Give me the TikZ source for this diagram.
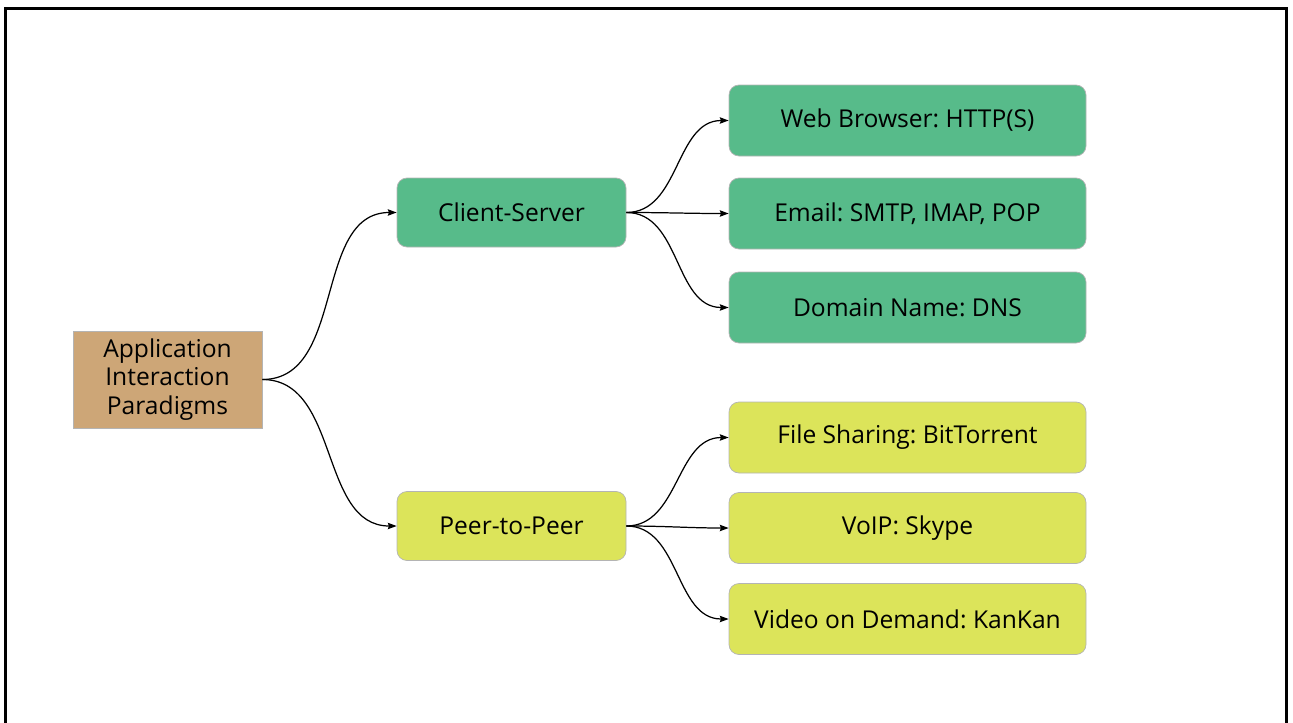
\documentclass[tikz,border=0pt]{standalone}
\usepackage{fontspec}
\setmainfont{Open Sans}
\usetikzlibrary{arrows.meta}
\frenchspacing

\definecolor{roottan}{HTML}{CDA677}
\definecolor{csgreen}{HTML}{57BB8A}
\definecolor{ppyellow}{HTML}{DCE45A}
\definecolor{boxgrey}{HTML}{B4B4B4}

\tikzstyle{root}=[draw=boxgrey, fill=roottan, minimum width=3.78cm, minimum height=1.94cm, align=center, font=\fontsize{14}{16.2}\selectfont]
\tikzstyle{branch}=[draw=boxgrey, rounded corners=0.2cm, minimum width=4.58cm, minimum height=1.38cm, font=\fontsize{14}{16.2}\selectfont]
\tikzstyle{leaf}=[branch, minimum width=7.14cm, minimum height=1.42cm]
\tikzstyle{edge} = [draw, line width=0.7pt, -{Stealth[length=5pt, width=3.6pt, inset=0.6pt]}]

\begin{document}
\begin{tikzpicture}
	    \useasboundingbox (0,0) rectangle (25.86,-14.46);
	    \draw[line width=1.7pt] (0.11,-0.17) rectangle (25.72,-14.9);
	    \node[root] (root) at (3.35,-7.59) {Application\\Interaction\\Paradigms};
	    \node[branch, fill=csgreen] (cs) at (10.23,-4.25) {Client-Server};
	    \node[branch, fill=ppyellow] (pp) at (10.23,-10.52) {Peer-to-Peer};
	    \foreach \pos/\name/\txt in {{(18.15,-2.41)/web/{Web Browser: HTTP(S)}}, {(18.15,-4.27)/mail/{Email: SMTP, IMAP, POP}}, {(18.15,-6.15)/dns/{Domain Name: DNS}}}
	        \node[leaf, fill=csgreen] (\name) at \pos {\txt};
	    \foreach \pos/\name/\txt in {{(18.15,-8.75)/share/{File Sharing: BitTorrent}}, {(18.15,-10.56)/voip/{VoIP: Skype}}, {(18.15,-12.38)/vod/{Video on Demand: KanKan}}}
	        \node[leaf, fill=ppyellow] (\name) at \pos {\txt};
	    \foreach \source/ \dest in {root/cs, root/pp, cs/web, cs/mail, cs/dns, pp/share, pp/voip, pp/vod}
			\path[edge] (\source.east) to[out=0, in=180] (\dest.west);
	\end{tikzpicture}
\end{document}
